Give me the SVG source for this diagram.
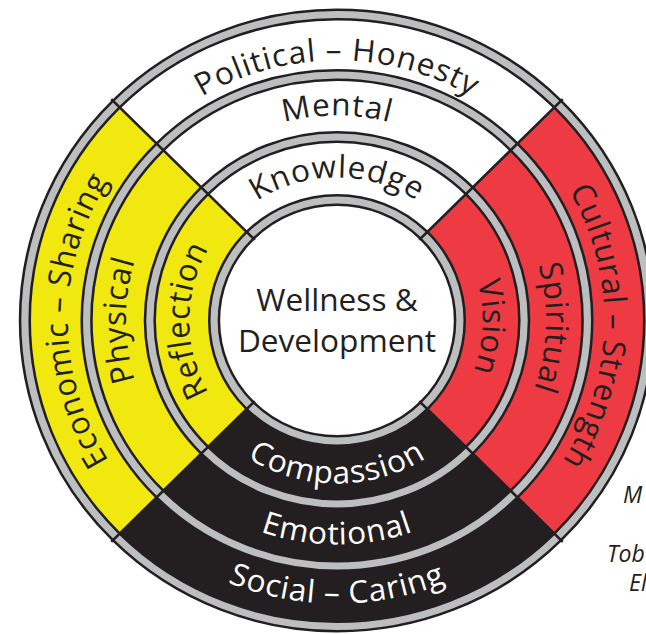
<svg xmlns="http://www.w3.org/2000/svg" width="646" height="634" viewBox="0 0 646 634">
<style>
.lbl{font-family:"Open Sans","Liberation Sans",sans-serif;font-size:31px;fill:#231f20}
.ring{letter-spacing:0.8px}
.inv{fill:#ffffff}
.band{fill:none;stroke:#231f20;stroke-width:12}
.gray{fill:none;stroke:#bcbec0;stroke-width:7}
.div{stroke:#231f20;stroke-width:2.6}
.note{font-family:"Open Sans","Liberation Sans",sans-serif;font-style:italic;font-size:23px;fill:#231f20}
</style>
<defs>
<path id="t1" d="M-143,0 A143,143 0 0 1 143,0"/>
<path id="t2" d="M-205,0 A205,205 0 0 1 205,0"/>
<path id="t3" d="M-260,0 A260,260 0 0 1 260,0"/>
<path id="l1" d="M0,145 A145,145 0 0 1 0,-145"/>
<path id="l2" d="M0,207 A207,207 0 0 1 0,-207"/>
<path id="l3" d="M0,264 A264,264 0 0 1 0,-264"/>
<path id="r1" d="M0,-143 A143,143 0 0 1 0,143"/>
<path id="r2" d="M0,-205 A205,205 0 0 1 0,205"/>
<path id="r3" d="M0,-262 A262,262 0 0 1 0,262"/>
<path id="b1" d="M-163,0 A163,163 0 0 0 163,0"/>
<path id="b2" d="M-224,0 A224,224 0 0 0 224,0"/>
<path id="b3" d="M-283,0 A283,283 0 0 0 283,0"/>
</defs>
<rect width="646" height="634" fill="#ffffff"/>
<g id="wheel" transform="translate(337,320.5) scale(1.02,1)">
  <g id="sectors">
    <path d="M0,0 L-216.37,-216.37 A306,306 0 0 1 216.37,-216.37 Z" fill="#ffffff"/>
    <path d="M0,0 L216.37,-216.37 A306,306 0 0 1 216.37,216.37 Z" fill="#ee3b43"/>
    <path d="M0,0 L216.37,216.37 A306,306 0 0 1 -216.37,216.37 Z" fill="#231f20"/>
    <path d="M0,0 L-216.37,216.37 A306,306 0 0 1 -216.37,-216.37 Z" fill="#f1e80f"/>
    <circle r="120.5" fill="#ffffff"/>
  </g>
  <g id="rings">
    <circle class="band" r="120.5"/>
    <circle class="band" r="183.5"/>
    <circle class="band" r="245.5"/>
    <circle class="band" r="306"/>
    <circle class="gray" r="120.5"/>
    <circle class="gray" r="183.5"/>
    <circle class="gray" r="245.5"/>
    <circle class="gray" r="306"/>
  </g>
  <g id="dividers">
    <line class="div" x1="-80.6" y1="-80.6" x2="-221.3" y2="-221.3"/>
    <line class="div" x1="80.6" y1="-80.6" x2="221.3" y2="-221.3"/>
    <line class="div" x1="80.6" y1="80.6" x2="221.3" y2="221.3"/>
    <line class="div" x1="-80.6" y1="80.6" x2="-221.3" y2="221.3"/>
  </g>
  <g id="center">
    <text class="lbl" text-anchor="middle" x="0" y="-9.5">Wellness &amp;</text>
    <text class="lbl" text-anchor="middle" x="0" y="31.5">Development</text>
  </g>
  <g id="north">
    <text class="lbl ring"><textPath href="#t1" startOffset="50%" text-anchor="middle">Knowledge</textPath></text>
    <text class="lbl ring"><textPath href="#t2" startOffset="50%" text-anchor="middle">Mental</textPath></text>
    <text class="lbl ring"><textPath href="#t3" startOffset="50%" text-anchor="middle">Political – Honesty</textPath></text>
  </g>
  <g id="west">
    <text class="lbl ring"><textPath href="#l1" startOffset="50%" text-anchor="middle">Reflection</textPath></text>
    <text class="lbl ring"><textPath href="#l2" startOffset="50%" text-anchor="middle">Physical</textPath></text>
    <text class="lbl ring"><textPath href="#l3" startOffset="50%" text-anchor="middle">Economic – Sharing</textPath></text>
  </g>
  <g id="east">
    <text class="lbl ring"><textPath href="#r1" startOffset="231" text-anchor="middle">Vision</textPath></text>
    <text class="lbl ring"><textPath href="#r2" startOffset="329" text-anchor="middle">Spiritual</textPath></text>
    <text class="lbl ring"><textPath href="#r3" startOffset="418" text-anchor="middle">Cultural – Strength</textPath></text>
  </g>
  <g id="south">
    <text class="lbl ring inv"><textPath href="#b1" startOffset="50%" text-anchor="middle">Compassion</textPath></text>
    <text class="lbl ring inv"><textPath href="#b2" startOffset="50%" text-anchor="middle">Emotional</textPath></text>
    <text class="lbl ring inv"><textPath href="#b3" startOffset="50%" text-anchor="middle">Social – Caring</textPath></text>
  </g>
</g>
<g id="notes">
  <text class="note" x="623" y="503">M</text>
  <text class="note" x="607" y="562">Tob</text>
  <text class="note" x="629" y="591">El</text>
</g>
</svg>
